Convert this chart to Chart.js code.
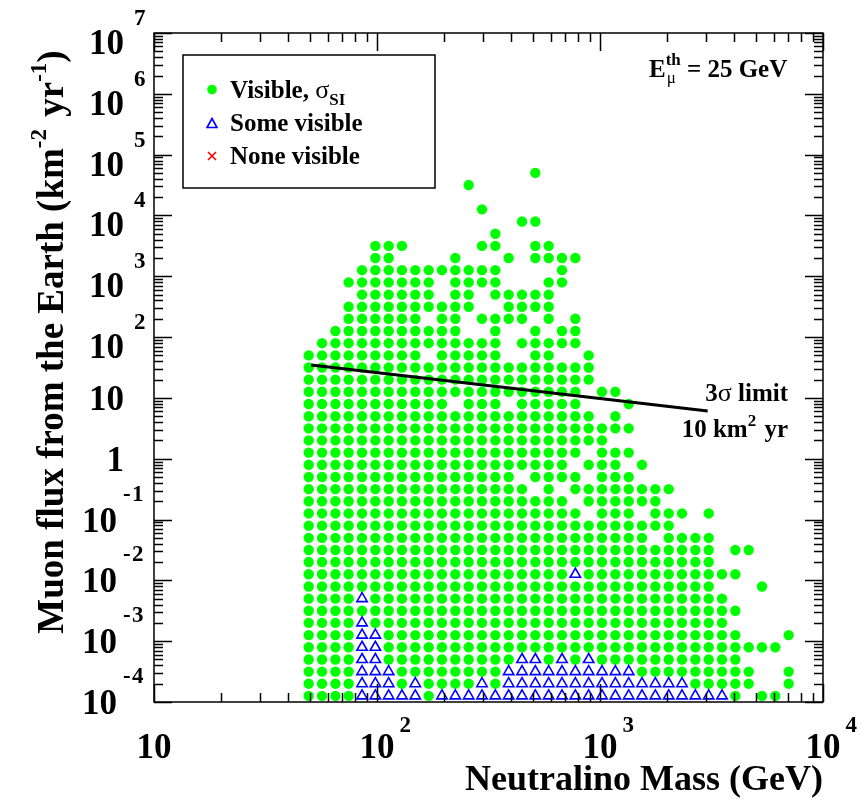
<!DOCTYPE html>
<html>
<head>
<meta charset="utf-8">
<script src="https://cdn.jsdelivr.net/npm/chart.js@4.4.1/dist/chart.umd.min.js"></script>
<style>
  html, body { margin: 0; padding: 0; background: #fff; }
</style>
</head>
<body>
<canvas id="muonChart" width="861" height="800"></canvas>
<script>
// neutralino mass of each model column (GeV)
const masses = [49.4, 56.7, 65.1, 74.6, 85.7, 98.3, 112.8, 129.4, 148.5, 170.5,
  195.6, 224.5, 257.7, 295.7, 339.4, 389.5, 447.0, 512.9, 588.6, 675.5,
  775.2, 889.6, 1021, 1172, 1345, 1543, 1771, 2033, 2332, 2677,
  3072, 3525, 4045, 4643, 5328, 6113, 7015];

// muon flux of each row, bottom to top (km^-2 yr^-1)
const fluxes = [1.26e-4, 2.0e-4, 3.16e-4, 5.0e-4, 7.94e-4,
  1.26e-3, 2.0e-3, 3.16e-3, 5.0e-3, 7.94e-3,
  1.26e-2, 2.0e-2, 3.16e-2, 5.0e-2, 7.94e-2,
  0.126, 0.2, 0.316, 0.5, 0.794,
  1.26, 2.0, 3.16, 5.0, 7.94,
  12.6, 20, 31.6, 50, 79.4,
  126, 200, 316, 500, 794,
  1260, 2000, 3160, 5000, 7940,
  12600, 20000, 31600, 50000];

// model map, top row first: o = visible, ^ = some visible, . = none
const pointGrid = [
  '.......... .......o.. .......... .......',
  '.......... ..o....... .......... .......',
  '.......... .......... .......... .......',
  '.......... ...o...... .......... .......',
  '.......... ......oo.. .......... .......',
  '.......... ....o..... .......... .......',
  '.....ooo.. ...oo..oo. .......... .......',
  '.....oo... .o...o.ooo o......... .......',
  '....oooooo ooooo....o .......... .......',
  '...ooooooo .oooo...oo .......... .......',
  '....oooooo .oo.ooooo. .......... .......',
  '...ooooooo ooo..oooo. .......... .......',
  '...oooooo. oo.oooo.o. o......... .......',
  '..oooooooo oo..o..o.o o......... .......',
  '.ooooooooo ooooo.oooo o......... .......',
  'ooooooooo. ooooo..oo. .o........ .......',
  'oooooooooo oooooooooo oo........ .......',
  'oooooooooo oooooooooo oo........ .......',
  'oooooooooo oooooooooo o.oo...... .......',
  'oooooooooo o.ooo.oooo o...o..... .......',
  'oooooooooo oooooooooo oo.o...... .......',
  'oooooooooo oooooooooo ooooo..... .......',
  'oooooooooo oooooooooo ooo....... .......',
  'oooooooooo oooooooooo o.ooo..... .......',
  'oooooooooo oooooooooo .ooo.o.... .......',
  'oooooooooo oooooo.ooo o.ooo..... .......',
  'oooooooooo ooooooo.o. oooooooo.. .......',
  'oooooooooo oooooooooo .oooooo... .......',
  'oooooooooo oooooooooo o.ooo.ooo. o......',
  'oooooooooo oooooooooo oooooooo.. .......',
  'oooooooooo oooooooooo oooooo.ooo o......',
  'oooooooooo oooooooooo oooooooooo o.oo...',
  'oooooooooo oooooooooo oooooooooo o......',
  'oooooooooo oooooooooo ^ooooooooo ooo....',
  'oooooooooo oooooooooo oooooooooo o...o..',
  'oooo^ooooo oooooooooo oooooooooo oo.....',
  'oooooooooo oooooooooo oooooooooo ooo....',
  'oooo^ooooo oooooooooo oooooooooo oo.....',
  'oooo^^oooo oooooooooo oooooooooo ooo...o',
  'oooo^^oooo oooooooooo oooooooooo oooooo.',
  'oooo^^oooo oooooo^^o^ o^oooooooo ooo....',
  'oooo^^^ooo ooooo^^^^^ ^^^^^ooooo oooo..o',
  'oooo^^^o^o ooo^o^^^^^ ^^^^^^^^^o oooo..o',
  'oooo^^^^^o ^^^^^^^^^^ ^^^^^^^^^^ ^^o.oo.'
];

// 3 sigma sensitivity for 10 km^2 yr
const limitMass = [50.7, 3040];
const limitFlux = [34.7, 6.1];

// axis decades and their labels (base, exponent)
const xTicks = [10, 100, 1000, 10000];
const xTickLabels = [['10', ''], ['10', '2'], ['10', '3'], ['10', '4']];
const yTicks = [1e-4, 1e-3, 1e-2, 1e-1, 1, 10, 1e2, 1e3, 1e4, 1e5, 1e6, 1e7];
const yTickLabels = [['10', '-4'], ['10', '-3'], ['10', '-2'], ['10', '-1'], ['1', ''], ['10', ''],
  ['10', '2'], ['10', '3'], ['10', '4'], ['10', '5'], ['10', '6'], ['10', '7']];

const visible = [];
const someVisible = [];
pointGrid.forEach((line, r) => {
  const cells = line.replace(/ /g, '');
  const flux = fluxes[pointGrid.length - 1 - r];
  for (let c = 0; c < cells.length; c++) {
    if (cells[c] === 'o') visible.push({ x: masses[c], y: flux });
    if (cells[c] === '^') someVisible.push({ x: masses[c], y: flux });
  }
});

const SERIF = '"Liberation Serif", "Times New Roman", serif';
const GREEN = '#00ff00';
const BLUE = '#0000ff';
const RED = '#ff0000';
const TICK_FONT = 35;
const EXP_FONT = 23;

// text with raised (sup) or lowered (sub) parts, left aligned at x
function drawRich(ctx, parts, x, y, size) {
  let cx = x;
  parts.forEach(p => {
    ctx.font = (p.font || 'bold') + ' ' + (p.size || size) + 'px ' + SERIF;
    ctx.fillText(p.t, cx, y + (p.dy || 0));
    cx += ctx.measureText(p.t).width + (p.gap || 0);
  });
  return cx - x;
}
function richWidth(ctx, parts, size) {
  let w = 0;
  parts.forEach(p => {
    ctx.font = (p.font || 'bold') + ' ' + (p.size || size) + 'px ' + SERIF;
    w += ctx.measureText(p.t).width + (p.gap || 0);
  });
  return w;
}

const frameAndAxes = {
  id: 'frameAndAxes',
  afterDatasetsDraw(chart) {
    const { ctx, chartArea: a, scales: { x, y } } = chart;
    ctx.save();
    ctx.strokeStyle = '#000';
    ctx.lineWidth = 1.5;

    // log ticks on all four sides, pointing inwards
    ctx.beginPath();
    for (let d = 10; d <= 1000; d *= 10) {
      for (let k = 1; k <= 10; k++) {
        const px = Math.round(x.getPixelForValue(d * k)) + 0.5;
        const len = (k === 1 || k === 10) ? 18 : 9;
        ctx.moveTo(px, a.bottom); ctx.lineTo(px, a.bottom - len);
        ctx.moveTo(px, a.top); ctx.lineTo(px, a.top + len);
      }
    }
    for (let d = 1e-4; d < 1e7; d *= 10) {
      for (let k = 1; k <= 10; k++) {
        const py = Math.round(y.getPixelForValue(d * k)) + 0.5;
        const len = (k === 1 || k === 10) ? 18 : 9;
        ctx.moveTo(a.left, py); ctx.lineTo(a.left + len, py);
        ctx.moveTo(a.right, py); ctx.lineTo(a.right - len, py);
      }
    }
    ctx.stroke();
    ctx.strokeRect(a.left, a.top, a.right - a.left, a.bottom - a.top);

    ctx.fillStyle = '#000';
    ctx.textBaseline = 'alphabetic';

    // x tick labels
    xTicks.forEach((v, i) => {
      const px = x.getPixelForValue(v);
      const [base, ex] = xTickLabels[i];
      ctx.font = 'bold ' + TICK_FONT + 'px ' + SERIF;
      const bw = ctx.measureText(base).width;
      ctx.fillText(base, px - bw / 2, a.bottom + 56);
      if (ex) {
        ctx.font = 'bold ' + EXP_FONT + 'px ' + SERIF;
        ctx.fillText(ex, px + bw / 2 + 5, a.bottom + 30);
      }
    });

    // y tick labels
    yTicks.forEach((v, i) => {
      const py = y.getPixelForValue(v);
      const [base, ex] = yTickLabels[i];
      ctx.font = 'bold ' + TICK_FONT + 'px ' + SERIF;
      const bw = ctx.measureText(base).width;
      if (!ex) {
        ctx.fillText(base, 124 - bw, py + 12);
      } else if (ex[0] === '-') {
        ctx.fillText(base, 117 - bw, py + 12);
        ctx.font = 'bold ' + EXP_FONT + 'px ' + SERIF;
        ctx.fillText('-', 123, py - 19);
        ctx.fillText(ex.slice(1), 132, py - 19);
      } else {
        ctx.fillText(base, 124 - bw, py + 21);
        ctx.font = 'bold ' + EXP_FONT + 'px ' + SERIF;
        ctx.fillText(ex, 134, py - 8);
      }
    });

    // x axis title
    ctx.font = 'bold 36px ' + SERIF;
    const xt = 'Neutralino Mass (GeV)';
    ctx.fillText(xt, a.right - ctx.measureText(xt).width, 790);

    // y axis title, rotated
    const yParts = [
      { t: 'Muon flux from the Earth (km' },
      { t: '-2', size: 23, dy: -17, gap: 3 },
      { t: ' yr' },
      { t: '-1', size: 23, dy: -17 },
      { t: ')' }
    ];
    ctx.save();
    ctx.translate(63, 342);
    ctx.rotate(-Math.PI / 2);
    const yw = richWidth(ctx, yParts, 37);
    drawRich(ctx, yParts, -yw / 2, 0, 37);
    ctx.restore();

    // legend box
    ctx.lineWidth = 1.5;
    ctx.strokeRect(183, 55, 252, 133);
    ctx.fillStyle = GREEN;
    ctx.beginPath(); ctx.arc(212, 89.5, 4.8, 0, Math.PI * 2); ctx.fill();
    ctx.strokeStyle = BLUE; ctx.lineWidth = 1.6;
    ctx.beginPath();
    ctx.moveTo(212, 118.5); ctx.lineTo(217, 127.5); ctx.lineTo(207, 127.5); ctx.closePath();
    ctx.stroke();
    ctx.strokeStyle = RED; ctx.lineWidth = 1.6;
    ctx.beginPath();
    ctx.moveTo(208, 152); ctx.lineTo(216, 160);
    ctx.moveTo(216, 152); ctx.lineTo(208, 160);
    ctx.stroke();
    ctx.fillStyle = '#000';
    drawRich(ctx, [{ t: 'Visible, ' }, { t: 'σ', font: 'normal', size: 26 }, { t: 'SI', size: 17, dy: 7 }], 230, 98, 25);
    drawRich(ctx, [{ t: 'Some visible' }], 230, 131, 25);
    drawRich(ctx, [{ t: 'None visible' }], 230, 164, 25);

    // threshold energy
    drawRich(ctx, [{ t: 'E' }, { t: 'th', size: 17, dy: -12, gap: -14 }, { t: 'μ', size: 17, font: 'normal', dy: 6, gap: 11 },
      { t: '= 25 GeV' }], 649, 77, 25);

    // limit line annotation
    const l1 = [{ t: '3' }, { t: 'σ', font: 'normal', size: 26 }, { t: ' limit' }];
    drawRich(ctx, l1, 788 - richWidth(ctx, l1, 25), 401, 25);
    const l2 = [{ t: '10 km' }, { t: '2', size: 17, dy: -11, gap: 2 }, { t: ' yr' }];
    drawRich(ctx, l2, 788 - richWidth(ctx, l2, 25), 437, 25);

    ctx.restore();
  }
};

new Chart(document.getElementById('muonChart').getContext('2d'), {
  type: 'scatter',
  data: {
    datasets: [
      {
        type: 'line',
        label: '3σ limit',
        data: limitMass.map((m, i) => ({ x: m, y: limitFlux[i] })),
        borderColor: '#000',
        borderWidth: 3,
        pointRadius: 0,
        fill: false,
        order: 0
      },
      {
        label: 'Some visible',
        data: someVisible,
        pointStyle: 'triangle',
        pointRadius: 6,
        backgroundColor: 'rgba(0,0,0,0)',
        borderColor: BLUE,
        borderWidth: 1.6,
        order: 1
      },
      {
        label: 'Visible',
        data: visible,
        pointStyle: 'circle',
        pointRadius: 5.2,
        backgroundColor: GREEN,
        borderWidth: 0,
        order: 2
      }
    ]
  },
  options: {
    responsive: false,
    animation: false,
    layout: { padding: { left: 154, right: 38, top: 33, bottom: 98 } },
    scales: {
      x: { type: 'logarithmic', min: 10, max: 10000, display: false },
      y: { type: 'logarithmic', min: 1e-4, max: 1e7, display: false }
    },
    plugins: {
      legend: { display: false },
      tooltip: { enabled: false }
    }
  },
  plugins: [frameAndAxes]
});
</script>
</body>
</html>
